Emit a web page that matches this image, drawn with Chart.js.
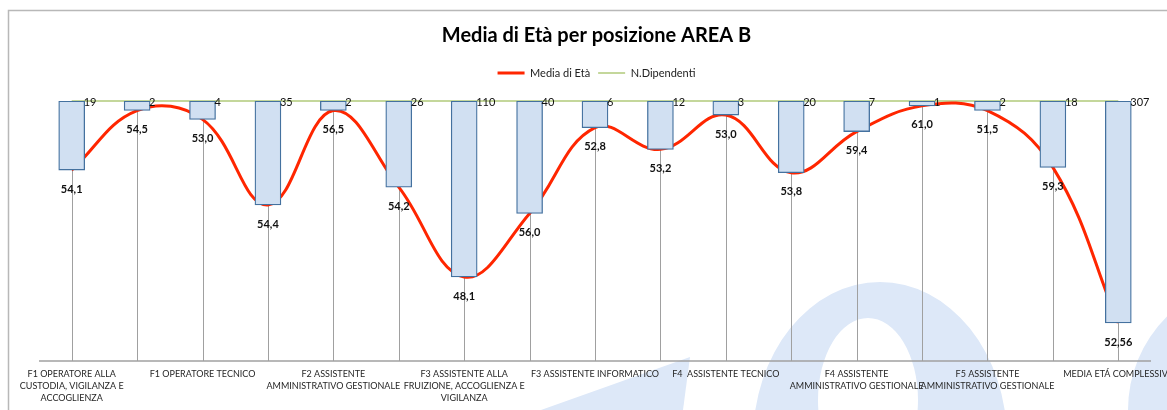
<!DOCTYPE html>
<html lang="it">
<head>
<meta charset="utf-8">
<title>Media di Età per posizione AREA B</title>
<script src="https://cdn.jsdelivr.net/npm/chart.js@4.4.1/dist/chart.umd.min.js"></script>
<style>
  html, body { margin: 0; padding: 0; background: #fff; }
</style>
</head>
<body>
<canvas id="graficoEta" width="1167" height="410"></canvas>
<script>
// posizioni (quelle dispari non hanno etichetta sull'asse)
const categorie = [
    ['F1 OPERATORE ALLA', 'CUSTODIA, VIGILANZA E', 'ACCOGLIENZA'], '',
    'F1 OPERATORE TECNICO', '',
    ['F2 ASSISTENTE', 'AMMINISTRATIVO GESTIONALE'], '',
    ['F3 ASSISTENTE ALLA', 'FRUIZIONE, ACCOGLIENZA E', 'VIGILANZA'], '',
    'F3 ASSISTENTE INFORMATICO', '',
    'F4  ASSISTENTE TECNICO', '',
    ['F4 ASSISTENTE', 'AMMINISTRATIVO GESTIONALE'], '',
    ['F5 ASSISTENTE', 'AMMINISTRATIVO GESTIONALE'], '',
    'MEDIA ETÁ COMPLESSIVA'
];
const nDipendenti = [19, 2, 4, 35, 2, 26, 110, 40, 6, 12, 3, 20, 7, 1, 2, 18, 307];
const mediaEta = [54.1, 54.5, 53.0, 54.4, 56.5, 54.2, 48.1, 56.0, 52.8, 53.2, 53.0, 53.8, 59.4, 61.0, 51.5, 59.3, 52.56];
// linea di riferimento in alto (zero dipendenti)
const baseDipendenti = nDipendenti.map(() => 0);

const FONT = "Lato, 'Liberation Sans', sans-serif";

// scala "a saturazione": 0 in alto, i valori grandi si schiacciano verso il basso
const MEZZA_SCALA = 52.5;
class ScalaSatura extends Chart.LinearScale {
    getPixelForValue(value) {
        const t = value / (value + MEZZA_SCALA);
        return this.top + t * (this.bottom - this.top);
    }
    getValueForPixel(pixel) {
        const t = (pixel - this.top) / (this.bottom - this.top);
        return MEZZA_SCALA * t / (1 - t);
    }
}
ScalaSatura.id = 'satura';
ScalaSatura.defaults = Chart.LinearScale.defaults;
Chart.register(ScalaSatura);

function formatEta(v) {
    return v.toLocaleString('it-IT', { minimumFractionDigits: 1 });
}

// sfondo: cornice e logo in filigrana
const sfondo = {
    id: 'sfondo',
    beforeDraw(chart) {
        const ctx = chart.ctx;
        ctx.save();
        ctx.fillStyle = '#dde8f8';
        ctx.beginPath();
        ctx.moveTo(541, 410);
        ctx.lineTo(690, 357);
        ctx.lineTo(683, 410);
        ctx.closePath();
        ctx.fill();

        ctx.beginPath();
        ctx.ellipse(880, 440, 127, 158, 0, 0, Math.PI * 2);
        ctx.moveTo(918, 400);
        ctx.ellipse(868, 400, 50, 82, 0, 0, Math.PI * 2);
        ctx.fill('evenodd');

        ctx.beginPath();
        ctx.arc(1260, 410, 132, 0, Math.PI * 2);
        ctx.fill();

        ctx.strokeStyle = '#b8b8b8';
        ctx.lineWidth = 1.5;
        ctx.beginPath();
        ctx.moveTo(8.5, 410);
        ctx.lineTo(8.5, 10.5);
        ctx.lineTo(1167, 10.5);
        ctx.stroke();
        ctx.restore();
    }
};

// asse orizzontale e linee verticali dai punti all'asse
const lineeVerticali = {
    id: 'lineeVerticali',
    beforeDatasetsDraw(chart) {
        const ctx = chart.ctx;
        const meta = chart.getDatasetMeta(1);
        const area = chart.chartArea;
        ctx.save();
        ctx.strokeStyle = '#a0a0a0';
        ctx.lineWidth = 1;
        meta.data.forEach(p => {
            const x = Math.round(p.x) + 0.5;
            ctx.beginPath();
            ctx.moveTo(x, p.y);
            ctx.lineTo(x, area.bottom);
            ctx.stroke();
        });
        ctx.lineWidth = 1.3;
        ctx.beginPath();
        ctx.moveTo(area.left, area.bottom);
        ctx.lineTo(area.right, area.bottom);
        ctx.stroke();
        ctx.restore();
    }
};

// etichette: età sotto i punti, numero dipendenti accanto alle barre
const etichette = {
    id: 'etichette',
    afterDatasetsDraw(chart) {
        const ctx = chart.ctx;
        const punti = chart.getDatasetMeta(1).data;
        const barre = chart.getDatasetMeta(0).data;
        ctx.save();
        ctx.fillStyle = '#111';
        ctx.textBaseline = 'middle';
        ctx.textAlign = 'center';
        ctx.font = 'bold 11px ' + FONT;
        punti.forEach((p, i) => {
            ctx.fillText(formatEta(mediaEta[i]), p.x, p.y + 19);
        });
        ctx.textAlign = 'left';
        ctx.font = '11px ' + FONT;
        barre.forEach((b, i) => {
            ctx.fillText(String(nDipendenti[i]), b.x + 12, chart.chartArea.top + 1);
        });
        ctx.restore();
    }
};

// spazio tra legenda e grafico
const margineLegenda = {
    id: 'margineLegenda',
    beforeInit(chart) {
        const fitOriginale = chart.legend.fit;
        chart.legend.fit = function () {
            fitOriginale.bind(chart.legend)();
            this.height += 12.5;
        };
    }
};

new Chart(document.getElementById('graficoEta'), {
    type: 'bar',
    data: {
        labels: categorie,
        datasets: [{
            type: 'bar',
            label: 'N.Dipendenti (barre)',
            data: nDipendenti,
            backgroundColor: '#d1e0f2',
            borderColor: '#44719f',
            borderWidth: 1.3,
            borderSkipped: false,
            barThickness: 26,
            order: 0
        }, {
            type: 'line',
            label: 'Media di Età',
            data: nDipendenti,
            borderColor: '#ff2600',
            backgroundColor: '#ff2600',
            borderWidth: 3,
            pointRadius: 0,
            tension: 0.4,
            clip: false,
            order: 1
        }, {
            type: 'line',
            label: 'N.Dipendenti',
            data: baseDipendenti,
            borderColor: '#c4d79b',
            backgroundColor: '#c4d79b',
            borderWidth: 2,
            pointRadius: 0,
            clip: false,
            order: 2
        }]
    },
    options: {
        responsive: false,
        animation: false,
        layout: { padding: { top: 0, left: 26, right: 0, bottom: 0 } },
        plugins: {
            title: {
                display: true,
                text: 'Media di Età per posizione AREA B',
                color: '#000',
                font: { family: FONT, size: 20, weight: 'bold' },
                padding: { top: 24, bottom: 11.5 }
            },
            legend: {
                display: true,
                labels: {
                    filter: item => item.datasetIndex !== 0,
                    usePointStyle: true,
                    pointStyle: 'line',
                    pointStyleWidth: 27,
                    padding: 8,
                    color: '#222',
                    font: { family: FONT, size: 11 }
                }
            },
            tooltip: { enabled: false }
        },
        scales: {
            x: {
                offset: true,
                grid: { display: false, drawTicks: false },
                border: { display: false },
                ticks: {
                    autoSkip: false,
                    maxRotation: 0,
                    minRotation: 0,
                    padding: 7,
                    color: '#262626',
                    font: { family: FONT, size: 9, lineHeight: 1.333 }
                },
                afterFit(scale) {
                    scale.paddingLeft = 39;
                    scale.paddingRight = 16;
                    scale.height = 49;
                }
            },
            y: {
                type: 'satura',
                display: false,
                min: 0,
                max: 400
            }
        }
    },
    plugins: [sfondo, lineeVerticali, etichette, margineLegenda]
});
</script>
</body>
</html>
